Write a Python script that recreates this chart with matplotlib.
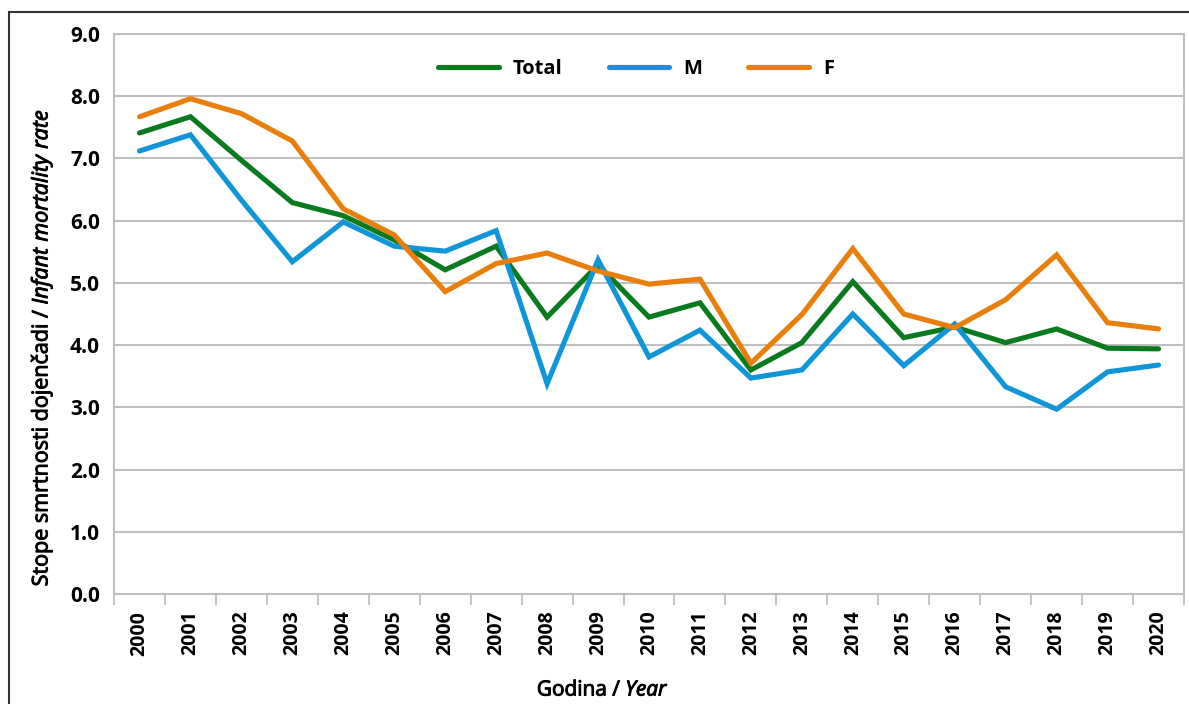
import matplotlib
matplotlib.use("Agg")
import matplotlib.pyplot as plt
import matplotlib.patheffects as pe
from matplotlib.patches import Rectangle
import numpy as np

years = [str(y) for y in range(2000, 2021)]
total = [7.41, 7.67, 6.97, 6.29, 6.08, 5.69, 5.21, 5.59, 4.45, 5.29, 4.45,
         4.68, 3.60, 4.04, 5.02, 4.12, 4.29, 4.04, 4.26, 3.95, 3.94]
male = [7.12, 7.38, 6.33, 5.34, 5.98, 5.59, 5.51, 5.84, 3.38, 5.37, 3.81,
        4.24, 3.47, 3.60, 4.50, 3.67, 4.34, 3.33, 2.97, 3.57, 3.68]
female = [7.67, 7.96, 7.72, 7.28, 6.19, 5.77, 4.86, 5.31, 5.48, 5.19, 4.98,
          5.06, 3.71, 4.49, 5.55, 4.50, 4.28, 4.73, 5.45, 4.36, 4.26]
series_names = ["Total", "M", "F"]
colors = ["#0A7A1E", "#1096D8", "#E97E0B"]
yticks = [0, 1, 2, 3, 4, 5, 6, 7, 8, 9]

plt.rcParams['font.family'] = ['Open Sans', 'DejaVu Sans']
plt.rcParams['mathtext.fontset'] = 'custom'
plt.rcParams['mathtext.it'] = 'Open Sans:italic'
plt.rcParams['mathtext.rm'] = 'Open Sans'

W, H = 1189, 704
fig = plt.figure(figsize=(W / 100, H / 100), dpi=100)
L, R, T, B = 114, 1184, 34, 594
ax = fig.add_axes([L / W, (H - B) / H, (R - L) / W, (B - T) / H])

x = np.arange(len(years))
for vals, name, c in zip([total, male, female], series_names, colors):
    ax.plot(x, vals, color=c, lw=3.7, label=name, solid_capstyle='round',
            solid_joinstyle='miter', zorder=3)

ax.set_xlim(-0.5, len(years) - 0.5)
ax.set_ylim(0, 9)
ax.set_yticks(yticks)
ax.set_yticklabels([f"{v:.1f}" for v in yticks], fontsize=15, fontweight='bold')
ax.tick_params(axis='y', length=0, pad=10)
ax.set_xticks(x)
ax.set_xticklabels(years, rotation=90, fontsize=14, fontweight='bold')
ax.set_xticks(np.arange(-0.5, len(years) - 0.4, 1), minor=True)
ax.tick_params(axis='x', which='major', length=0, pad=12)
ax.tick_params(axis='x', which='minor', length=8, color='#BFBFBF', width=1.3)
ax.grid(axis='y', color='#BFBFBF', lw=1.5, zorder=0)
for s in ax.spines.values():
    s.set_color('#BFBFBF')
    s.set_linewidth(1.5)

leg = ax.legend(loc='center', bbox_to_anchor=((636 - L) / (R - L), (B - 69) / (B - T)),
                ncol=3, frameon=False, handlelength=3.0, columnspacing=2.3,
                handletextpad=0.7, prop={'weight': 'bold', 'size': 14.5})

thick = [pe.withStroke(linewidth=0.7, foreground='black')]
fig.text(42 / W, (H - 348) / H,
         r"Stope smrtnosti dojenčadi / $\mathit{Infant\ mortality\ rate}$",
         rotation=90, ha='center', va='center', fontsize=15.5, path_effects=thick)
fig.text(603 / W, (H - 690) / H, r"Godina / $\mathit{Year}$",
         ha='center', va='center', fontsize=15, path_effects=thick)

fig.patches.append(Rectangle((9 / W, -0.1), 1.2, (H - 12) / H + 0.1,
                             transform=fig.transFigure, fill=False,
                             edgecolor='#333333', lw=1.5))

fig.savefig("out.png", dpi=100)
